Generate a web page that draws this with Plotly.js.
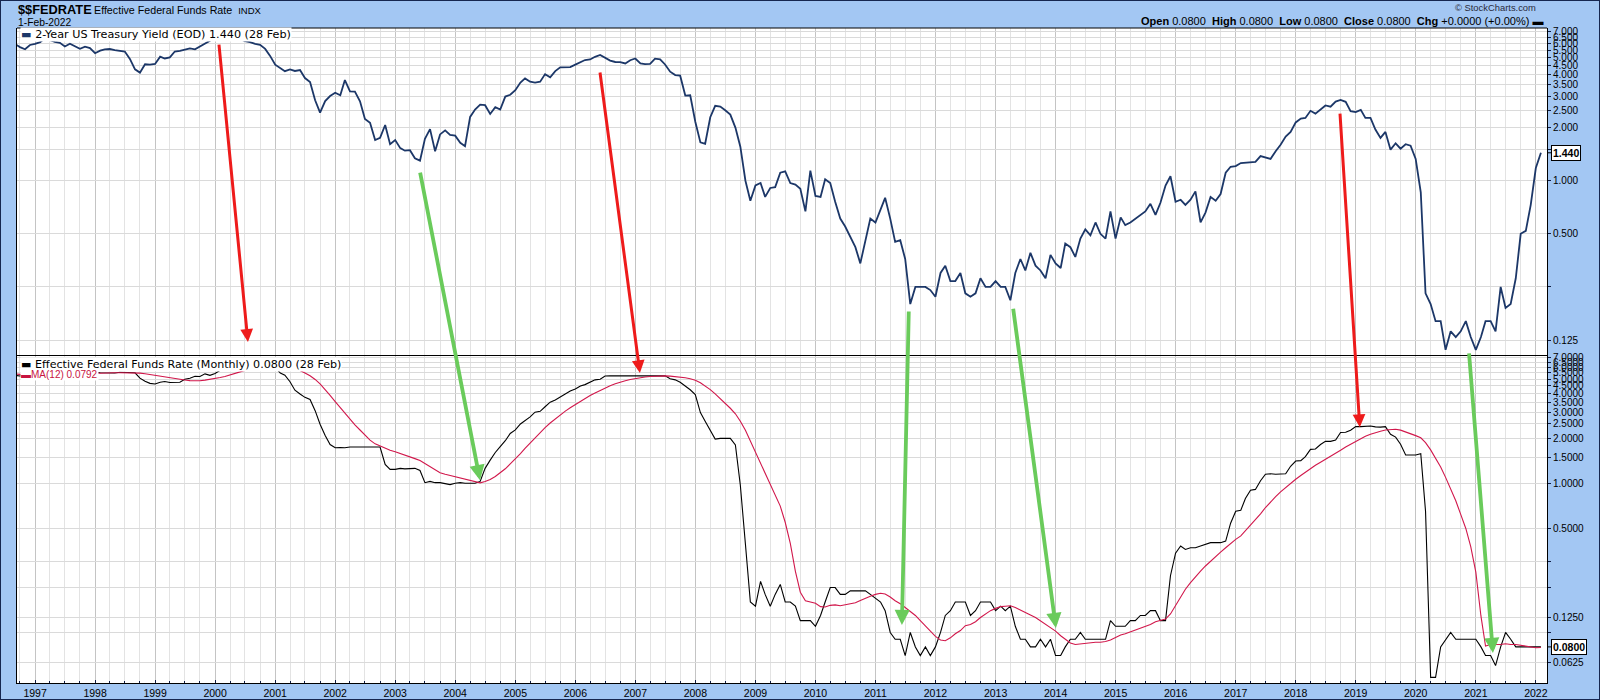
<!DOCTYPE html>
<html><head><meta charset="utf-8">
<script src="https://cdn.plot.ly/plotly-3.0.1.min.js"></script>
<style>
html,body{margin:0;padding:0;background:#a3c7f3;}
#wrap{width:1598px;height:698px;border:1px solid #16264f;}
#chart{width:1598px;height:698px;}
</style></head><body><div id="wrap"><div id="chart"></div></div>
<script>
// first month of every series
const firstYear = 1996, firstMonth = 9;

// 2-Year US Treasury Yield, monthly close
const ust2y = [
 5.95,5.72,5.56,5.88,
 5.96,6.10,6.42,6.24,6.12,6.05,5.77,5.98,5.80,5.60,5.75,5.65,
 5.28,5.46,5.56,5.58,5.50,5.43,5.40,4.90,4.28,4.10,4.57,4.55,
 4.59,5.05,4.93,5.00,5.40,5.45,5.55,5.63,5.56,5.75,5.95,6.22,
 6.57,6.59,6.44,6.71,6.76,6.36,6.19,6.11,5.97,5.89,5.59,5.10,
 4.55,4.37,4.18,4.27,4.19,4.24,3.82,3.63,2.86,2.43,2.83,3.02,
 3.15,3.05,3.72,3.21,3.20,2.82,2.24,2.13,1.70,1.75,2.07,1.61,
 1.70,1.53,1.48,1.49,1.34,1.30,1.73,1.96,1.47,1.83,1.93,1.82,
 1.80,1.64,1.57,2.30,2.53,2.70,2.68,2.39,2.61,2.53,3.00,3.07,
 3.26,3.60,3.80,3.64,3.60,3.64,4.02,3.86,4.18,4.39,4.42,4.41,
 4.55,4.69,4.83,4.87,5.04,5.16,4.97,4.80,4.71,4.70,4.62,4.82,
 4.93,4.62,4.58,4.60,4.92,4.87,4.56,4.15,3.97,3.94,3.04,3.05,
 2.16,1.65,1.62,2.29,2.66,2.63,2.51,2.37,2.00,1.56,1.00,0.77,
 0.94,0.97,0.81,0.91,0.92,1.11,1.13,0.97,0.95,0.90,0.67,1.14,
 0.82,0.81,1.02,0.97,0.76,0.61,0.55,0.48,0.42,0.34,0.45,0.61,
 0.58,0.69,0.80,0.61,0.45,0.46,0.36,0.20,0.25,0.25,0.25,0.24,
 0.22,0.30,0.33,0.27,0.27,0.30,0.23,0.22,0.23,0.28,0.25,0.25,
 0.27,0.25,0.25,0.21,0.30,0.36,0.31,0.39,0.33,0.31,0.28,0.38,
 0.34,0.32,0.44,0.42,0.37,0.47,0.53,0.49,0.58,0.50,0.47,0.67,
 0.47,0.62,0.56,0.58,0.61,0.64,0.67,0.74,0.64,0.75,0.94,1.06,
 0.76,0.78,0.73,0.78,0.87,0.58,0.66,0.81,0.77,0.84,1.11,1.20,
 1.21,1.26,1.27,1.28,1.28,1.38,1.36,1.33,1.47,1.60,1.78,1.89,
 2.14,2.25,2.27,2.49,2.40,2.52,2.67,2.63,2.81,2.87,2.80,2.48,
 2.45,2.52,2.27,2.27,1.95,1.75,1.89,1.50,1.63,1.52,1.61,1.58,
 1.33,0.86,0.23,0.20,0.16,0.16,0.11,0.14,0.13,0.14,0.16,0.13,
 0.11,0.13,0.16,0.16,0.14,0.25,0.19,0.20,0.28,0.50,0.52,0.73,
 1.18,1.44
];

// Effective Federal Funds Rate, monthly
const fedFunds = [
 5.30,5.24,5.31,5.29,
 5.25,5.19,5.39,5.51,5.50,5.56,5.52,5.54,5.54,5.50,5.52,5.50,
 5.56,5.51,5.49,5.45,5.49,5.56,5.54,5.55,5.51,5.07,4.83,4.68,
 4.63,4.76,4.81,4.74,4.74,4.76,4.99,5.07,5.22,5.20,5.42,5.30,
 5.45,5.73,5.85,6.02,6.27,6.53,6.54,6.50,6.52,6.51,6.51,6.40,
 5.98,5.49,5.31,4.80,4.21,3.97,3.77,3.65,3.07,2.49,2.09,1.82,
 1.73,1.74,1.73,1.75,1.75,1.75,1.73,1.74,1.75,1.75,1.34,1.24,
 1.24,1.26,1.25,1.26,1.26,1.22,1.01,1.03,1.01,1.01,1.00,0.98,
 1.00,1.01,1.00,1.00,1.00,1.03,1.26,1.43,1.61,1.76,1.93,2.16,
 2.28,2.50,2.63,2.79,3.00,3.04,3.26,3.50,3.62,3.78,4.00,4.16,
 4.29,4.49,4.59,4.79,4.94,4.99,5.24,5.25,5.25,5.25,5.25,5.24,
 5.25,5.26,5.26,5.25,5.25,5.25,5.26,5.02,4.94,4.76,4.49,4.24,
 3.94,2.98,2.61,2.28,1.98,2.00,2.01,2.00,1.81,0.97,0.39,0.16,
 0.15,0.22,0.18,0.15,0.18,0.21,0.16,0.16,0.15,0.12,0.12,0.12,
 0.11,0.13,0.16,0.20,0.20,0.18,0.18,0.19,0.19,0.19,0.19,0.18,
 0.17,0.16,0.14,0.10,0.09,0.09,0.07,0.10,0.08,0.07,0.08,0.07,
 0.08,0.10,0.13,0.14,0.16,0.16,0.16,0.13,0.14,0.16,0.16,0.16,
 0.14,0.15,0.14,0.15,0.11,0.09,0.09,0.08,0.08,0.09,0.08,0.09,
 0.07,0.07,0.08,0.09,0.09,0.10,0.09,0.09,0.09,0.09,0.09,0.12,
 0.11,0.11,0.11,0.12,0.12,0.13,0.13,0.14,0.14,0.12,0.12,0.24,
 0.34,0.38,0.36,0.37,0.37,0.38,0.39,0.40,0.40,0.40,0.41,0.54,
 0.65,0.66,0.79,0.90,0.91,1.04,1.15,1.16,1.15,1.15,1.16,1.30,
 1.41,1.42,1.51,1.69,1.70,1.82,1.91,1.91,1.95,2.19,2.20,2.27,
 2.40,2.40,2.41,2.42,2.39,2.38,2.40,2.13,2.04,1.83,1.55,1.55,
 1.55,1.58,0.65,0.05,0.05,0.08,0.09,0.10,0.09,0.09,0.09,0.09,
 0.09,0.08,0.07,0.07,0.06,0.08,0.10,0.09,0.08,0.08,0.08,0.08,
 0.08,0.08
];

// MA(12) of the Effective Federal Funds Rate as plotted
const fedFundsMA12 = [
 5.408,5.365,5.324,5.298,
 5.273,5.270,5.277,5.301,5.323,5.347,5.357,5.383,5.403,5.425,5.443,5.460,
 5.486,5.513,5.521,5.516,5.515,5.515,5.517,5.518,5.515,5.479,5.422,5.353,
 5.276,5.213,5.157,5.098,5.035,4.968,4.923,4.883,4.858,4.869,4.918,4.970,
 5.038,5.119,5.206,5.313,5.440,5.588,5.717,5.836,5.944,6.053,6.144,6.236,
 6.280,6.260,6.215,6.113,5.942,5.728,5.498,5.260,4.973,4.638,4.269,3.888,
 3.533,3.221,2.923,2.668,2.463,2.278,2.108,1.949,1.839,1.778,1.715,1.667,
 1.626,1.586,1.546,1.505,1.464,1.420,1.360,1.301,1.239,1.178,1.149,1.128,
 1.108,1.087,1.066,1.044,1.023,1.007,1.028,1.061,1.111,1.173,1.251,1.349,
 1.456,1.580,1.716,1.865,2.032,2.199,2.366,2.538,2.706,2.874,3.047,3.213,
 3.381,3.547,3.710,3.877,4.038,4.201,4.366,4.512,4.648,4.770,4.874,4.964,
 5.044,5.108,5.164,5.203,5.228,5.250,5.252,5.233,5.207,5.166,5.103,5.019,
 4.910,4.720,4.499,4.252,3.979,3.708,3.438,3.186,2.925,2.609,2.268,1.928,
 1.612,1.382,1.179,1.002,0.852,0.703,0.548,0.395,0.257,0.186,0.163,0.160,
 0.157,0.149,0.148,0.152,0.153,0.151,0.153,0.155,0.158,0.164,0.170,0.175,
 0.180,0.183,0.181,0.173,0.163,0.156,0.147,0.139,0.130,0.120,0.111,0.102,
 0.094,0.089,0.088,0.092,0.098,0.103,0.111,0.113,0.118,0.126,0.133,0.140,
 0.145,0.149,0.150,0.151,0.147,0.141,0.135,0.131,0.126,0.120,0.113,0.108,
 0.102,0.095,0.090,0.085,0.083,0.084,0.084,0.085,0.086,0.086,0.087,0.089,
 0.093,0.096,0.098,0.101,0.103,0.106,0.109,0.113,0.118,0.120,0.123,0.133,
 0.152,0.174,0.195,0.216,0.237,0.258,0.279,0.301,0.323,0.346,0.370,0.395,
 0.421,0.444,0.480,0.524,0.569,0.624,0.688,0.751,0.813,0.876,0.938,1.002,
 1.065,1.128,1.188,1.254,1.320,1.385,1.448,1.511,1.578,1.664,1.751,1.832,
 1.914,1.996,2.071,2.132,2.189,2.236,2.277,2.295,2.303,2.273,2.218,2.158,
 2.088,2.019,1.873,1.675,1.480,1.288,1.096,0.927,0.764,0.619,0.498,0.376,
 0.254,0.129,0.081,0.083,0.083,0.083,0.084,0.083,0.083,0.082,0.081,0.080,
 0.079,0.0792
];

// y-axis tick values and labels
const topTickVals = [0.125,0.25,0.5,1,1.5,2,2.5,3,3.5,4,4.5,5,5.5,6,6.5,7];
const topTickText = ['0.125','','0.500','1.000','','2.000','2.500','3.000','3.500','4.000','4.500','5.000','5.500','6.000','6.500','7.000'];
const botTickVals = [0.0625,0.1,0.125,0.2,0.3,0.5,1,1.5,2,2.5,3,3.5,4,4.5,5,5.5,6,6.5,7];
const botTickText = ['0.0625','','0.1250','','','0.5000','1.0000','1.5000','2.0000','2.5000','3.0000','3.5000','4.0000','4.5000','5.0000','5.5000','6.0000','6.5000','7.0000'];

// annotation arrows: tail on the 2-year panel, head on the named panel
const arrowTailDate  = ['2000-01-24','2006-05-30','2003-05-31','2011-07-23','2013-04-17','2018-09-27','2020-11-20'];
const arrowTailValue = [6.03, 4.19, 1.135, 0.185, 0.192, 2.45, 0.107];
const arrowHeadDate  = ['2000-07-19','2007-01-29','2004-05-31','2011-06-11','2014-01-03','2019-01-26','2021-04-15'];
const arrowHeadValue = [0.122, 5.49, 1.05, 0.112, 0.107, 2.38, 0.0728];
const arrowHeadPanel = ['top','bottom','bottom','bottom','bottom','bottom','bottom'];
const arrowKind      = ['red','red','green','green','green','red','green'];

// ---------------------------------------------------------------
const months = [];
for (let i = 0; i < ust2y.length; i++) {
  const m = firstMonth - 1 + i;
  const y = firstYear + Math.floor(m / 12);
  const mm = (m % 12) + 1;
  months.push(y + '-' + (mm < 10 ? '0' + mm : mm) + '-01');
}

const NAVY = '#1c3768', FRAME = '#0f1d45';
const axisCfg = {
  top:    {dom: [0.49924, 1], range: [-0.9935, 0.8657]},
  bottom: {dom: [0, 0.49924], range: [-1.339, 0.8537]}
};
function toPanel(v, from, to) {
  const A = axisCfg[from], B = axisCfg[to];
  const f = A.dom[0] + (Math.log10(v) - A.range[0]) / (A.range[1] - A.range[0]) * (A.dom[1] - A.dom[0]);
  return B.range[0] + (f - B.dom[0]) / (B.dom[1] - B.dom[0]) * (B.range[1] - B.range[0]);
}

const traces = [
  {x: months, y: ust2y, xaxis: 'x', yaxis: 'y', type: 'scatter', mode: 'lines',
   line: {color: NAVY, width: 1.8}, hoverinfo: 'skip'},
  {x: months, y: fedFunds, xaxis: 'x', yaxis: 'y2', type: 'scatter', mode: 'lines',
   line: {color: '#000000', width: 1.1}, hoverinfo: 'skip'},
  {x: months, y: fedFundsMA12, xaxis: 'x', yaxis: 'y2', type: 'scatter', mode: 'lines',
   line: {color: '#d1174b', width: 1.1}, hoverinfo: 'skip'}
];

const last = ust2y.length - 1;
const annotations = [];
const hdrFont = 'Liberation Sans, Arial, sans-serif';
const lgFont = 'DejaVu Sans, Verdana, sans-serif';

annotations.push({xref:'paper', yref:'paper', x:0, xshift:-1, y:1.0290, xanchor:'left', yanchor:'middle', showarrow:false,
  text:'<b>$$FEDRATE</b>', font:{family:hdrFont, size:12.8, color:'#000'}});
annotations.push({xref:'paper', yref:'paper', x:0.0490, y:1.0282, xanchor:'left', yanchor:'middle', showarrow:false,
  text:'Effective Federal Funds Rate\u00a0\u00a0<span style="font-size:9.5px">INDX</span>', font:{family:hdrFont, size:10.7, color:'#000'}});
annotations.push({xref:'paper', yref:'paper', x:0, xshift:-1, y:1.0085, xanchor:'left', yanchor:'middle', showarrow:false,
  text:'1-Feb-2022', font:{family:hdrFont, size:10.3, color:'#000'}});
annotations.push({xref:'paper', yref:'paper', x:0.9941, y:1.0316, xanchor:'right', yanchor:'middle', showarrow:false,
  text:'© StockCharts.com', font:{family:hdrFont, size:9.4, color:'#2a2a3a'}});
const v4 = fedFunds[last].toFixed(4);
annotations.push({xref:'paper', yref:'paper', x:0.9987, y:1.0100, xanchor:'right', yanchor:'middle', showarrow:false,
  text:'<b>Open</b> ' + v4 + '\u00a0\u00a0<b>High</b> ' + v4 + '\u00a0\u00a0<b>Low</b> ' + v4 + '\u00a0\u00a0<b>Close</b> ' + v4 + '\u00a0\u00a0<b>Chg</b> +0.0000 (+0.00%) <b>▬</b>',
  font:{family:hdrFont, size:11, color:'#000'}});

// panel legends
annotations.push({xref:'paper', yref:'y domain', x:0.002, y:0.981, xanchor:'left', yanchor:'middle', showarrow:false,
  bgcolor:'#ffffff', borderpad:0,
  text:'<span style="color:' + NAVY + '">▬</span> 2-Year US Treasury Yield (EOD) ' + ust2y[last].toFixed(3) + ' (28 Feb)',
  font:{family:lgFont, size:11.2, color:'#000'}});
annotations.push({xref:'paper', yref:'y2 domain', x:0.002, y:0.9755, xanchor:'left', yanchor:'middle', showarrow:false,
  bgcolor:'#ffffff', borderpad:0,
  text:'<span style="color:#000">▬</span> Effective Federal Funds Rate (Monthly) ' + fedFunds[last].toFixed(4) + ' (28 Feb)',
  font:{family:lgFont, size:11.1, color:'#000'}});
annotations.push({xref:'paper', yref:'y2 domain', x:0.002, y:0.944, xanchor:'left', yanchor:'middle', showarrow:false,
  bgcolor:'#ffffff', borderpad:0,
  text:'▬MA(12) ' + fedFundsMA12[last].toFixed(4),
  font:{family:hdrFont, size:10, color:'#c8143f'}});

// last-value boxes
annotations.push({xref:'paper', yref:'y', x:1, y:Math.log10(ust2y[last]), showarrow:true, axref:'pixel', ayref:'pixel', ax:19, ay:0,
  arrowhead:0, arrowwidth:1, arrowcolor:'#000', standoff:0, bgcolor:'#ffffff', bordercolor:'#000', borderwidth:1, borderpad:1,
  text:'<b>' + ust2y[last].toFixed(3) + '</b>', font:{family:hdrFont, size:10.5, color:'#000'}});
annotations.push({xref:'paper', yref:'y2', x:1, y:Math.log10(fedFunds[last]), showarrow:true, axref:'pixel', ayref:'pixel', ax:22, ay:0,
  arrowhead:0, arrowwidth:1, arrowcolor:'#000', standoff:0, bgcolor:'#ffffff', bordercolor:'#000', borderwidth:1, borderpad:1,
  text:'<b>' + fedFunds[last].toFixed(4) + '</b>', font:{family:hdrFont, size:10.5, color:'#000'}});

// red / green arrows
for (let i = 0; i < arrowTailDate.length; i++) {
  const panel = arrowHeadPanel[i];
  const yref = panel === 'top' ? 'y' : 'y2';
  const red = arrowKind[i] === 'red';
  annotations.push({
    xref:'x', yref: yref, axref:'x', ayref: yref,
    x: arrowHeadDate[i], y: Math.log10(arrowHeadValue[i]),
    ax: arrowTailDate[i], ay: toPanel(arrowTailValue[i], 'top', panel),
    text:'', showarrow:true, standoff:0,
    arrowhead:2, arrowsize: red ? 0.85 : 0.8, arrowwidth: red ? 3 : 3.8,
    arrowcolor: red ? '#ee1b1b' : '#6acb5b'
  });
}

const yCommon = {
  type:'log', side:'right', anchor:'x', tickmode:'array', ticks:'outside', ticklen:3, tickcolor:FRAME,
  showgrid:true, gridcolor:'#dadada', gridwidth:1, zeroline:false,
  showline:true, mirror:true, linecolor:'#000', linewidth:1,
  tickfont:{family:hdrFont, size:10, color:'#000'}
};

const layout = {
  width:1598, height:698,
  margin:{l:16, r:52, t:27, b:16, pad:0},
  paper_bgcolor:'#a3c7f3', plot_bgcolor:'#ffffff',
  showlegend:false,
  font:{family:hdrFont, size:10, color:'#000'},
  xaxis:{
    type:'date', range:['1996-09-13','2022-03-10'], anchor:'y2', domain:[0,1],
    dtick:'M12', tick0:'1997-01-01', tickformat:'%Y',
    ticks:'inside', ticklen:3, tickcolor:FRAME,
    showgrid:true, gridcolor:'#c4c4c4', gridwidth:1,
    minor:{dtick:'M3', tick0:'1997-01-01', showgrid:true, gridcolor:'#e3e3e3', ticks:'inside', ticklen:2, tickcolor:FRAME},
    showline:true, linecolor:'#000', linewidth:1, mirror:true, zeroline:false,
    tickfont:{family:hdrFont, size:10.5, color:'#000'}
  },
  yaxis: Object.assign({}, yCommon, {domain:axisCfg.top.dom, range:axisCfg.top.range, tickvals:topTickVals, ticktext:topTickText}),
  yaxis2: Object.assign({}, yCommon, {domain:axisCfg.bottom.dom, range:axisCfg.bottom.range, tickvals:botTickVals, ticktext:botTickText}),
  shapes: [
    {type:'line', xref:'paper', yref:'paper', x0:0, x1:1, y0:1, y1:1, line:{color:'#000', width:1}}
  ],
  annotations: annotations
};

Plotly.newPlot('chart', traces, layout, {staticPlot:true, displayModeBar:false});
</script>
</body></html>
